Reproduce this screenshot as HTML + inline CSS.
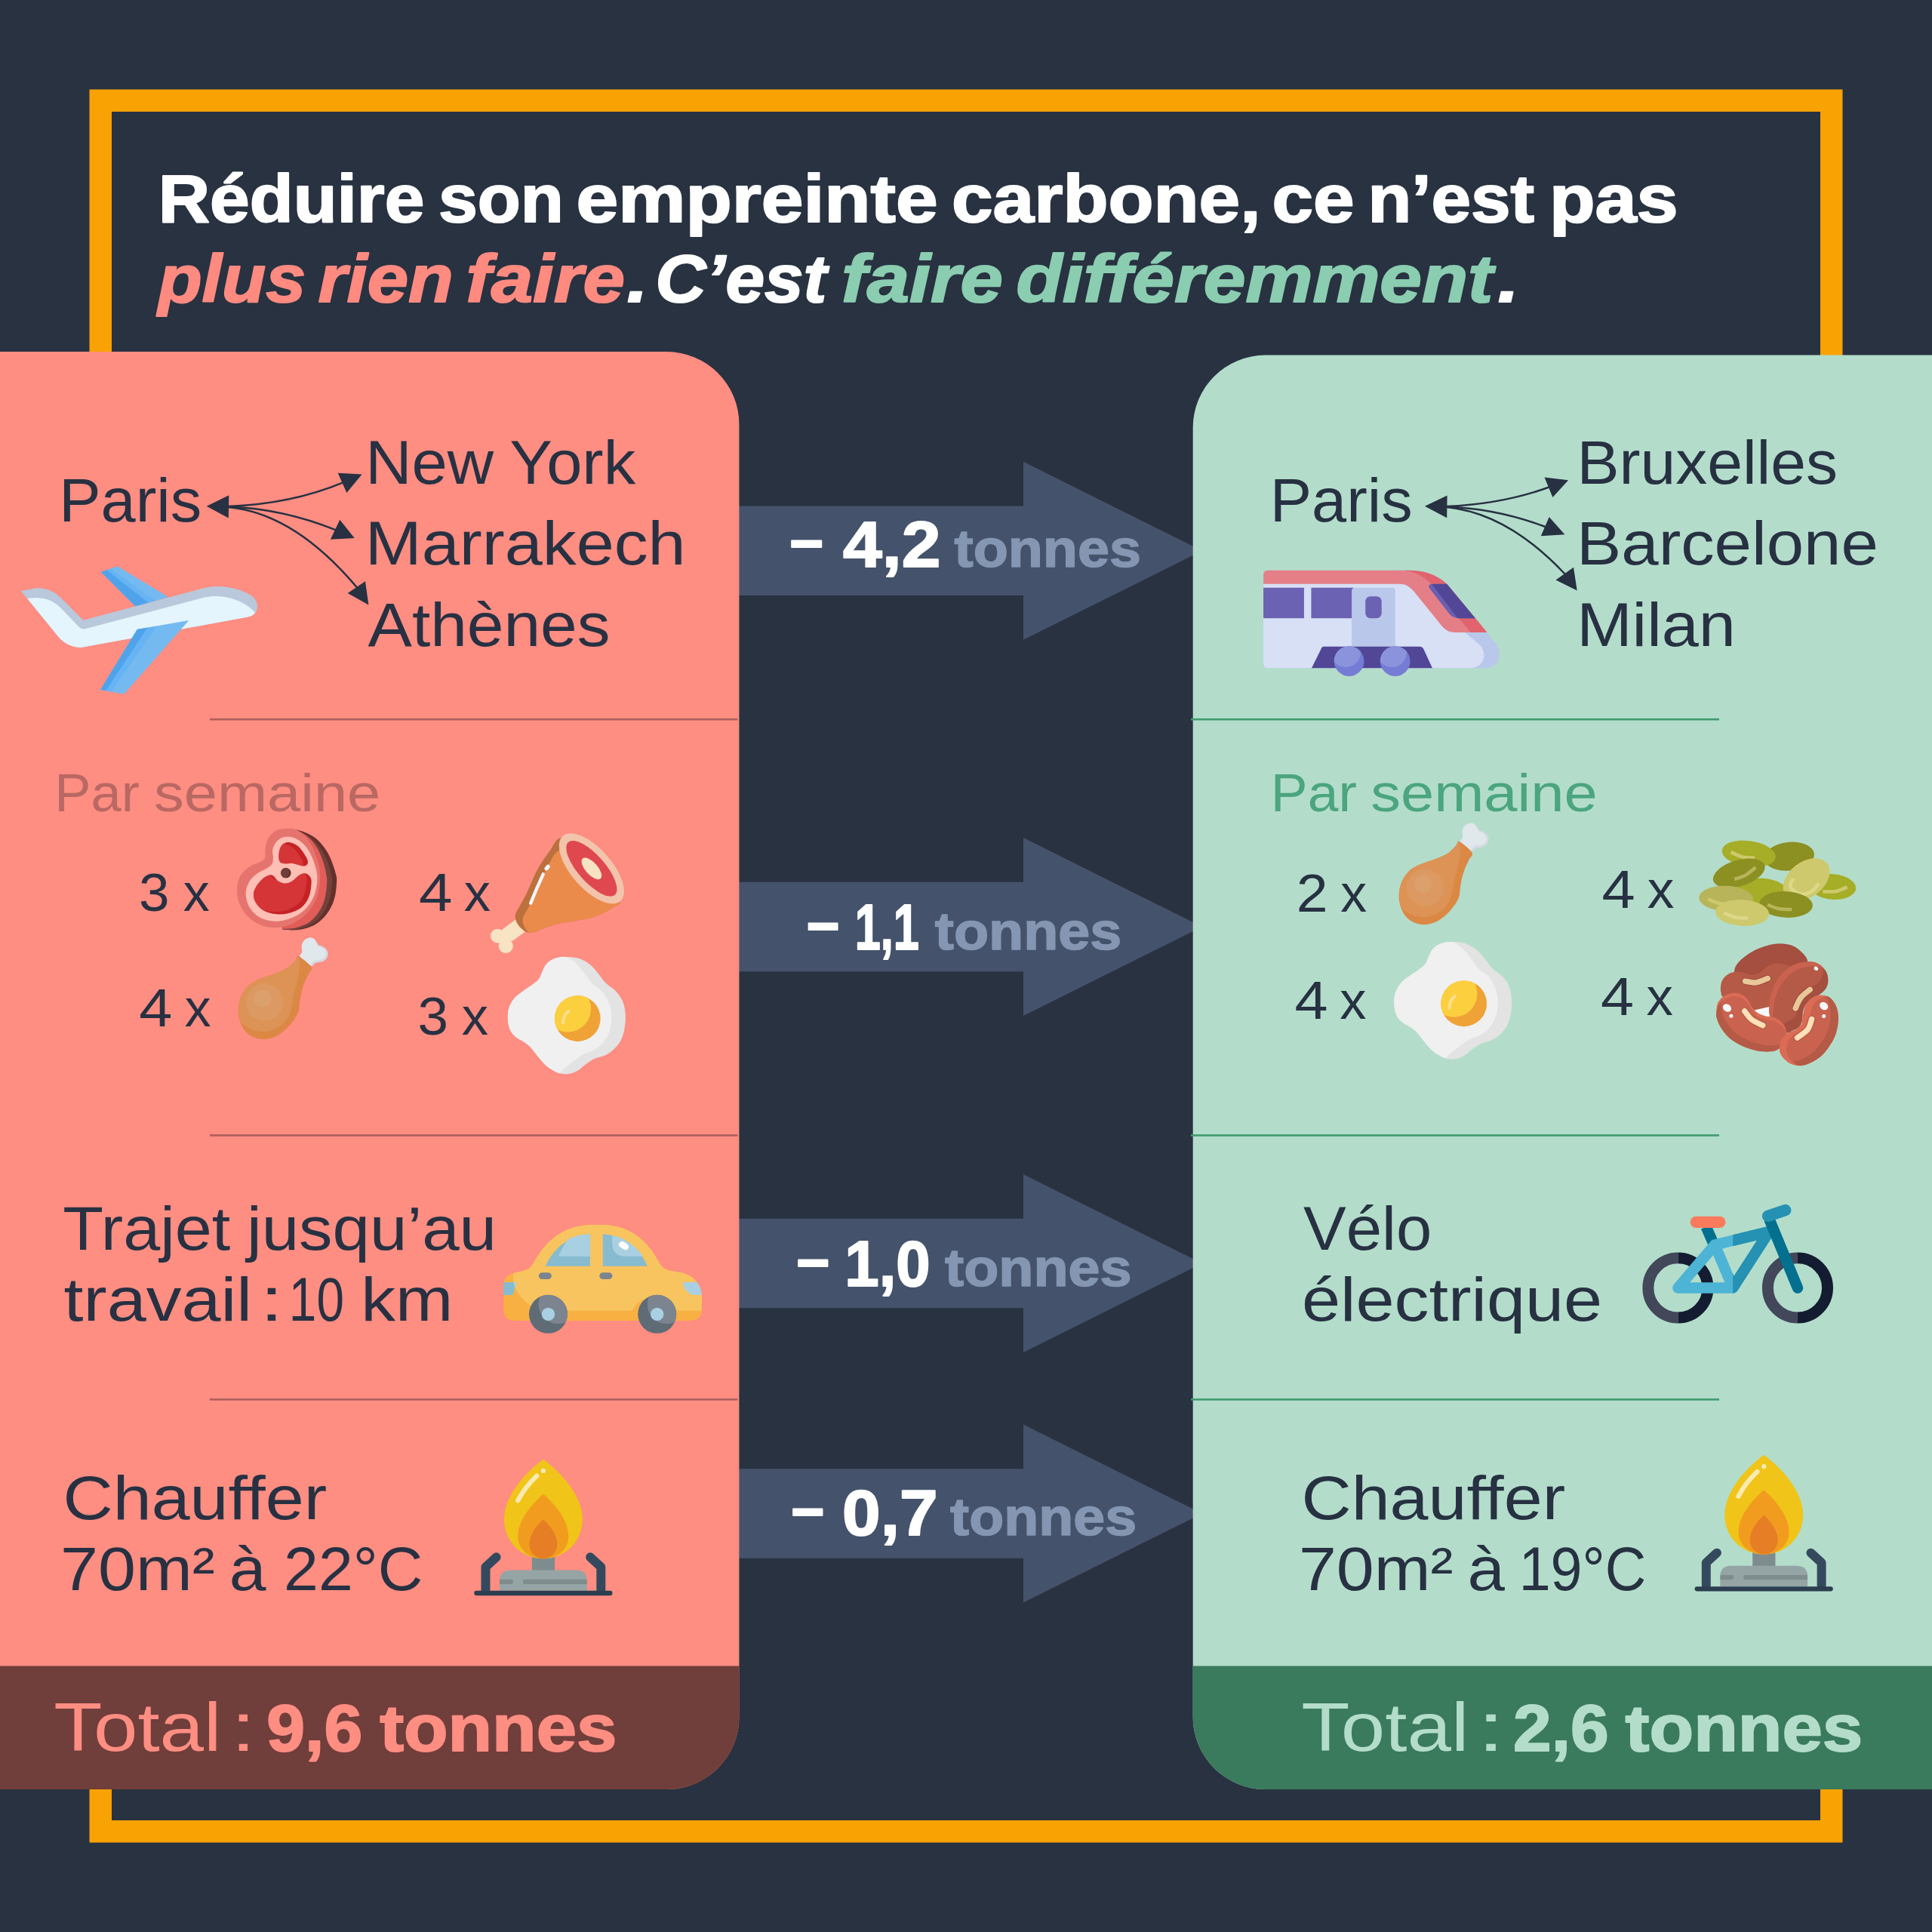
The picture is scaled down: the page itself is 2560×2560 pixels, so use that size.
<!DOCTYPE html>
<html lang="fr">
<head>
<meta charset="utf-8">
<title>Réduire son empreinte carbone</title>
<style>
html,body{margin:0;padding:0;background:#283241;}
body{width:2560px;height:2560px;}
svg{display:block;}
text{font-family:"Liberation Sans",sans-serif;white-space:pre;}
</style>
</head>
<body>
<svg width="2560" height="2560" viewBox="0 0 2560 2560">
<rect width="2560" height="2560" fill="#283241"/>
<rect x="133.25" y="133.25" width="2293.5" height="2293.5" fill="none" stroke="#f9a203" stroke-width="29.5"/>
<polygon points="970,670.6 1356,670.6 1356,611.8 1593,729.8 1356,847.8 1356,789.0 970,789.0" fill="#44536b"/>
<polygon points="970,1168.8 1356,1168.8 1356,1110.0 1593,1228.0 1356,1346.0 1356,1287.2 970,1287.2" fill="#44536b"/>
<polygon points="970,1614.8 1356,1614.8 1356,1556.0 1593,1674.0 1356,1792.0 1356,1733.2 970,1733.2" fill="#44536b"/>
<polygon points="970,1946.3 1356,1946.3 1356,1887.5 1593,2005.5 1356,2123.5 1356,2064.7 970,2064.7" fill="#44536b"/>
<path d="M0,466.1 H883.4 A96,96 0 0 1 979.4,562.1 V2275 A96,96 0 0 1 883.4,2371 H0 Z" fill="#fe8d82"/>
<path d="M0,2207.6 H979.4 V2275 A96,96 0 0 1 883.4,2371 H0 Z" fill="#703e3b"/>
<path d="M2560,470.6 H1676.7 A96,96 0 0 0 1580.7,566.6 V2275 A96,96 0 0 0 1676.7,2371 H2560 Z" fill="#b3ddca"/>
<path d="M2560,2207.6 H1580.7 V2275 A96,96 0 0 0 1676.7,2371 H2560 Z" fill="#3a7a5d"/>
<rect x="278" y="951.9" width="699.5" height="2.6" fill="#ad605c"/>
<rect x="1578" y="951.9" width="700" height="2.6" fill="#419b70"/>
<rect x="278" y="1503.1" width="699.5" height="2.6" fill="#ad605c"/>
<rect x="1578" y="1503.1" width="700" height="2.6" fill="#419b70"/>
<rect x="278" y="1853.1" width="699.5" height="2.6" fill="#ad605c"/>
<rect x="1578" y="1853.1" width="700" height="2.6" fill="#419b70"/>
<g transform="translate(300 1085) scale(0.082816)">
<defs><clipPath id="stk1"><path d="M1000,375 C1041.7,380 1105,402.5 1150,440 C1195,477.5 1244.2,558.3 1270,600 C1295.8,641.7 1303.3,666.7 1305,690 C1306.7,713.3 1292.5,729.2 1280,740 C1267.5,750.8 1260,758.3 1230,755 C1200,751.7 1133.3,727.2 1100,720 C1066.7,712.8 1058.3,712.8 1030,712 C1001.7,711.2 958.3,718.7 930,715 C901.7,711.3 875.3,705.8 860,690 C844.7,674.2 839.7,651.7 838,620 C836.3,588.3 839.7,535 850,500 C860.3,465 875,430.8 900,410 C925,389.2 958.3,370 1000,375 Z" fill="#000"/></clipPath><clipPath id="stk2"><path d="M690,900 C720,893.3 736.7,903.3 760,920 C783.3,936.7 800,980.8 830,1000 C860,1019.2 903.3,1035 940,1035 C976.7,1035 1011.7,1022.5 1050,1000 C1088.3,977.5 1133.3,920.8 1170,900 C1206.7,879.2 1241.7,870 1270,875 C1298.3,880 1325,904.2 1340,930 C1355,955.8 1363.3,976.7 1360,1030 C1356.7,1083.3 1346.7,1185 1320,1250 C1293.3,1315 1253.3,1376.7 1200,1420 C1146.7,1463.3 1066.7,1492.5 1000,1510 C933.3,1527.5 866.7,1531.7 800,1525 C733.3,1518.3 655,1500.8 600,1470 C545,1439.2 497.5,1385 470,1340 C442.5,1295 433.3,1243.3 435,1200 C436.7,1156.7 455.8,1120 480,1080 C504.2,1040 545,990 580,960 C615,930 660,906.7 690,900 Z" fill="#000"/></clipPath><clipPath id="stk3"><circle cx="952" cy="867" r="82"/></clipPath></defs>
<path d="M1000,165 C1016.7,165.8 1058.3,161.7 1100,170 C1141.7,178.3 1200,195 1250,215 C1300,235 1355,259.2 1400,290 C1445,320.8 1483.3,358.3 1520,400 C1556.7,441.7 1590,486.7 1620,540 C1650,593.3 1677.5,660 1700,720 C1722.5,780 1744.2,853.3 1755,900 C1765.8,946.7 1766.7,950 1765,1000 C1763.3,1050 1757.5,1136.7 1745,1200 C1732.5,1263.3 1714.2,1325 1690,1380 C1665.8,1435 1635,1485 1600,1530 C1565,1575 1521.7,1617.5 1480,1650 C1438.3,1682.5 1396.7,1705 1350,1725 C1303.3,1745 1250,1760.5 1200,1770 C1150,1779.5 1100,1782 1050,1782 C1000,1782 925,1772 900,1770 L800,1400 L800,500 Z" fill="#65302c"/>
<path d="M1000,160 C1025,165.8 1095,173.3 1150,195 C1205,216.7 1280,255.8 1330,290 C1380,324.2 1413.3,358.3 1450,400 C1486.7,441.7 1520,486.7 1550,540 C1580,593.3 1608.3,660 1630,720 C1651.7,780 1670,853.3 1680,900 C1690,946.7 1691.7,950 1690,1000 C1688.3,1050 1682.5,1136.7 1670,1200 C1657.5,1263.3 1638.3,1325 1615,1380 C1591.7,1435 1564.2,1485 1530,1530 C1495.8,1575 1451.7,1618.3 1410,1650 C1368.3,1681.7 1326.7,1700.8 1280,1720 C1233.3,1739.2 1176.7,1755.8 1130,1765 C1083.3,1774.2 1038.3,1775 1000,1775 C961.7,1775 916.7,1766.7 900,1765 L800,1400 L800,500 Z" fill="#73423b"/>
<path d="M950,157 C975,160 1046.7,157.8 1100,175 C1153.3,192.2 1220,224.2 1270,260 C1320,295.8 1363.3,343.3 1400,390 C1436.7,436.7 1463.3,485 1490,540 C1516.7,595 1541.7,660 1560,720 C1578.3,780 1591.7,853.3 1600,900 C1608.3,946.7 1611.7,950 1610,1000 C1608.3,1050 1601.7,1136.7 1590,1200 C1578.3,1263.3 1563.3,1325 1540,1380 C1516.7,1435 1485,1485 1450,1530 C1415,1575 1371.7,1619.2 1330,1650 C1288.3,1680.8 1246.7,1697.5 1200,1715 C1153.3,1732.5 1100,1747.5 1050,1755 C1000,1762.5 925,1759.2 900,1760 L800,1400 L800,500 Z" fill="#e25c58"/>
<path d="M900,160 C965,156.7 1075,150 1150,190 C1225,230 1296.7,315 1350,400 C1403.3,485 1445,608.3 1470,700 C1495,791.7 1503.3,858.3 1500,950 C1496.7,1041.7 1483.3,1158.3 1450,1250 C1416.7,1341.7 1366.7,1428.3 1300,1500 C1233.3,1571.7 1133.3,1640 1050,1680 C966.7,1720 883.3,1736.7 800,1740 C716.7,1743.3 628.3,1731.7 550,1700 C471.7,1668.3 388.3,1611.7 330,1550 C271.7,1488.3 226.7,1405 200,1330 C173.3,1255 165,1171.7 170,1100 C175,1028.3 195,956.7 230,900 C265,843.3 325,796.7 380,760 C435,723.3 520,703.3 560,680 C600,656.7 610,650 620,620 C630,590 613.3,548.3 620,500 C626.7,451.7 636.7,378.3 660,330 C683.3,281.7 720,238.3 760,210 C800,181.7 835,163.3 900,160 Z" fill="#e5746f"/>
<path d="M980,288 C1018.3,288 1060,293 1100,310 C1140,327 1181.7,353.3 1220,390 C1258.3,426.7 1298.3,475 1330,530 C1361.7,585 1389.2,653.3 1410,720 C1430.8,786.7 1453.3,853.3 1455,930 C1456.7,1006.7 1442.5,1105 1420,1180 C1397.5,1255 1361.7,1323.3 1320,1380 C1278.3,1436.7 1223.3,1483.3 1170,1520 C1116.7,1556.7 1061.7,1580 1000,1600 C938.3,1620 873.3,1641.7 800,1640 C726.7,1638.3 630,1625 560,1590 C490,1555 421.7,1495 380,1430 C338.3,1365 311.7,1271.7 310,1200 C308.3,1128.3 338.3,1055 370,1000 C401.7,945 453.3,905 500,870 C546.7,835 611.7,815 650,790 C688.3,765 713.7,748.3 730,720 C746.3,691.7 746.7,656.7 748,620 C749.3,583.3 731,540 738,500 C745,460 768,411.7 790,380 C812,348.3 838.3,325.3 870,310 C901.7,294.7 941.7,288 980,288 Z" fill="#ffbfb5"/>
<path d="M1000,375 C1041.7,380 1105,402.5 1150,440 C1195,477.5 1244.2,558.3 1270,600 C1295.8,641.7 1303.3,666.7 1305,690 C1306.7,713.3 1292.5,729.2 1280,740 C1267.5,750.8 1260,758.3 1230,755 C1200,751.7 1133.3,727.2 1100,720 C1066.7,712.8 1058.3,712.8 1030,712 C1001.7,711.2 958.3,718.7 930,715 C901.7,711.3 875.3,705.8 860,690 C844.7,674.2 839.7,651.7 838,620 C836.3,588.3 839.7,535 850,500 C860.3,465 875,430.8 900,410 C925,389.2 958.3,370 1000,375 Z" fill="#c62226"/>
<g clip-path="url(#stk1)"><g transform="translate(-75 30)"><path d="M1000,375 C1041.7,380 1105,402.5 1150,440 C1195,477.5 1244.2,558.3 1270,600 C1295.8,641.7 1303.3,666.7 1305,690 C1306.7,713.3 1292.5,729.2 1280,740 C1267.5,750.8 1260,758.3 1230,755 C1200,751.7 1133.3,727.2 1100,720 C1066.7,712.8 1058.3,712.8 1030,712 C1001.7,711.2 958.3,718.7 930,715 C901.7,711.3 875.3,705.8 860,690 C844.7,674.2 839.7,651.7 838,620 C836.3,588.3 839.7,535 850,500 C860.3,465 875,430.8 900,410 C925,389.2 958.3,370 1000,375 Z" fill="#d63538"/></g></g>
<path d="M690,900 C720,893.3 736.7,903.3 760,920 C783.3,936.7 800,980.8 830,1000 C860,1019.2 903.3,1035 940,1035 C976.7,1035 1011.7,1022.5 1050,1000 C1088.3,977.5 1133.3,920.8 1170,900 C1206.7,879.2 1241.7,870 1270,875 C1298.3,880 1325,904.2 1340,930 C1355,955.8 1363.3,976.7 1360,1030 C1356.7,1083.3 1346.7,1185 1320,1250 C1293.3,1315 1253.3,1376.7 1200,1420 C1146.7,1463.3 1066.7,1492.5 1000,1510 C933.3,1527.5 866.7,1531.7 800,1525 C733.3,1518.3 655,1500.8 600,1470 C545,1439.2 497.5,1385 470,1340 C442.5,1295 433.3,1243.3 435,1200 C436.7,1156.7 455.8,1120 480,1080 C504.2,1040 545,990 580,960 C615,930 660,906.7 690,900 Z" fill="#c62226"/>
<g clip-path="url(#stk2)"><g transform="translate(-75 -40)"><path d="M690,900 C720,893.3 736.7,903.3 760,920 C783.3,936.7 800,980.8 830,1000 C860,1019.2 903.3,1035 940,1035 C976.7,1035 1011.7,1022.5 1050,1000 C1088.3,977.5 1133.3,920.8 1170,900 C1206.7,879.2 1241.7,870 1270,875 C1298.3,880 1325,904.2 1340,930 C1355,955.8 1363.3,976.7 1360,1030 C1356.7,1083.3 1346.7,1185 1320,1250 C1293.3,1315 1253.3,1376.7 1200,1420 C1146.7,1463.3 1066.7,1492.5 1000,1510 C933.3,1527.5 866.7,1531.7 800,1525 C733.3,1518.3 655,1500.8 600,1470 C545,1439.2 497.5,1385 470,1340 C442.5,1295 433.3,1243.3 435,1200 C436.7,1156.7 455.8,1120 480,1080 C504.2,1040 545,990 580,960 C615,930 660,906.7 690,900 Z" fill="#d63538"/></g></g>
<circle cx="952" cy="867" r="82" fill="#5f2d29"/>
<circle cx="925" cy="860" r="82" fill="#6e3f38" clip-path="url(#stk3)"/>
</g>
<g transform="translate(300 1235) scale(0.077640)">
<path d="M1260,425 C1235,385.8 1285.8,372.5 1290,340 C1294.2,307.5 1278.3,263.3 1285,230 C1291.7,196.7 1307.5,162.5 1330,140 C1352.5,117.5 1391.7,98.3 1420,95 C1448.3,91.7 1479.2,105.8 1500,120 C1520.8,134.2 1531.7,162.5 1545,180 C1558.3,197.5 1564.2,214.2 1580,225 C1595.8,235.8 1620,234.2 1640,245 C1660,255.8 1684.2,269.2 1700,290 C1715.8,310.8 1733.3,343.3 1735,370 C1736.7,396.7 1724.2,428.3 1710,450 C1695.8,471.7 1671.7,489.2 1650,500 C1628.3,510.8 1603.3,510 1580,515 C1556.7,520 1533.3,520 1510,530 C1486.7,540 1481.7,592.5 1440,575 C1398.3,557.5 1285,464.2 1260,425 Z" fill="#d3dae2"/>
<path d="M1262,423 C1240.7,387.2 1287.8,372.2 1292,340 C1296.2,307.8 1280.7,263 1287,230 C1293.3,197 1307.8,164.2 1330,142 C1352.2,119.8 1392.5,100.3 1420,97 C1447.5,93.7 1475.8,107.3 1495,122 C1514.2,136.7 1523.3,166.2 1535,185 C1546.7,203.8 1550.8,222.5 1565,235 C1579.2,247.5 1601.7,249.2 1620,260 C1638.3,270.8 1661.7,281.7 1675,300 C1688.3,318.3 1700,348.3 1700,370 C1700,391.7 1688.3,414.2 1675,430 C1661.7,445.8 1640.8,456.7 1620,465 C1599.2,473.3 1573.3,474.2 1550,480 C1526.7,485.8 1501.7,487.5 1480,500 C1458.3,512.5 1456.3,567.8 1420,555 C1383.7,542.2 1283.3,458.8 1262,423 Z" fill="#e0e8ec"/>
<path d="M1235,415 C1280,435 1422.5,549.2 1450,600 C1477.5,650.8 1420,675 1400,720 C1380,765 1350,818.3 1330,870 C1310,921.7 1293.3,975 1280,1030 C1266.7,1085 1258.3,1146.7 1250,1200 C1241.7,1253.3 1246.7,1300 1230,1350 C1213.3,1400 1188.3,1446.7 1150,1500 C1111.7,1553.3 1055,1621.7 1000,1670 C945,1718.3 883.3,1763.3 820,1790 C756.7,1816.7 685,1831.7 620,1830 C555,1828.3 485,1810 430,1780 C375,1750 325.8,1703.3 290,1650 C254.2,1596.7 229.2,1518.3 215,1460 C200.8,1401.7 200.8,1355 205,1300 C209.2,1245 220.8,1183.3 240,1130 C259.2,1076.7 285,1025 320,980 C355,935 400,893.3 450,860 C500,826.7 561.7,803.3 620,780 C678.3,756.7 745,740 800,720 C855,700 903.3,683.3 950,660 C996.7,636.7 1041.7,610 1080,580 C1118.3,550 1154.2,507.5 1180,480 C1205.8,452.5 1190,395 1235,415 Z" fill="#db8845"/>
<path d="M1225,430 C1236.7,436.7 1247.5,478.3 1250,520 C1252.5,561.7 1248.3,621.7 1240,680 C1231.7,738.3 1215,808.3 1200,870 C1185,931.7 1164.2,986.7 1150,1050 C1135.8,1113.3 1126.7,1191.7 1115,1250 C1103.3,1308.3 1102.5,1350 1080,1400 C1057.5,1450 1021.7,1507.5 980,1550 C938.3,1592.5 885,1630 830,1655 C775,1680 713.3,1697.5 650,1700 C586.7,1702.5 508.3,1688.3 450,1670 C391.7,1651.7 336.7,1620 300,1590 C263.3,1560 245.8,1538.3 230,1490 C214.2,1441.7 203.3,1360 205,1300 C206.7,1240 220.8,1183.3 240,1130 C259.2,1076.7 285,1025 320,980 C355,935 400,893.3 450,860 C500,826.7 561.7,803.3 620,780 C678.3,756.7 745,740 800,720 C855,700 903.3,683.3 950,660 C996.7,636.7 1041.7,610 1080,580 C1118.3,550 1155.8,505 1180,480 C1204.2,455 1213.3,423.3 1225,430 Z" fill="#dc9355"/>
<circle cx="650" cy="1200" r="318" fill="#dc9a62"/>
<circle cx="615" cy="1135" r="148" fill="#dca06c"/>
</g>
<g transform="translate(1837.9 1083.1) scale(0.077640)">
<path d="M1260,425 C1235,385.8 1285.8,372.5 1290,340 C1294.2,307.5 1278.3,263.3 1285,230 C1291.7,196.7 1307.5,162.5 1330,140 C1352.5,117.5 1391.7,98.3 1420,95 C1448.3,91.7 1479.2,105.8 1500,120 C1520.8,134.2 1531.7,162.5 1545,180 C1558.3,197.5 1564.2,214.2 1580,225 C1595.8,235.8 1620,234.2 1640,245 C1660,255.8 1684.2,269.2 1700,290 C1715.8,310.8 1733.3,343.3 1735,370 C1736.7,396.7 1724.2,428.3 1710,450 C1695.8,471.7 1671.7,489.2 1650,500 C1628.3,510.8 1603.3,510 1580,515 C1556.7,520 1533.3,520 1510,530 C1486.7,540 1481.7,592.5 1440,575 C1398.3,557.5 1285,464.2 1260,425 Z" fill="#d3dae2"/>
<path d="M1262,423 C1240.7,387.2 1287.8,372.2 1292,340 C1296.2,307.8 1280.7,263 1287,230 C1293.3,197 1307.8,164.2 1330,142 C1352.2,119.8 1392.5,100.3 1420,97 C1447.5,93.7 1475.8,107.3 1495,122 C1514.2,136.7 1523.3,166.2 1535,185 C1546.7,203.8 1550.8,222.5 1565,235 C1579.2,247.5 1601.7,249.2 1620,260 C1638.3,270.8 1661.7,281.7 1675,300 C1688.3,318.3 1700,348.3 1700,370 C1700,391.7 1688.3,414.2 1675,430 C1661.7,445.8 1640.8,456.7 1620,465 C1599.2,473.3 1573.3,474.2 1550,480 C1526.7,485.8 1501.7,487.5 1480,500 C1458.3,512.5 1456.3,567.8 1420,555 C1383.7,542.2 1283.3,458.8 1262,423 Z" fill="#e0e8ec"/>
<path d="M1235,415 C1280,435 1422.5,549.2 1450,600 C1477.5,650.8 1420,675 1400,720 C1380,765 1350,818.3 1330,870 C1310,921.7 1293.3,975 1280,1030 C1266.7,1085 1258.3,1146.7 1250,1200 C1241.7,1253.3 1246.7,1300 1230,1350 C1213.3,1400 1188.3,1446.7 1150,1500 C1111.7,1553.3 1055,1621.7 1000,1670 C945,1718.3 883.3,1763.3 820,1790 C756.7,1816.7 685,1831.7 620,1830 C555,1828.3 485,1810 430,1780 C375,1750 325.8,1703.3 290,1650 C254.2,1596.7 229.2,1518.3 215,1460 C200.8,1401.7 200.8,1355 205,1300 C209.2,1245 220.8,1183.3 240,1130 C259.2,1076.7 285,1025 320,980 C355,935 400,893.3 450,860 C500,826.7 561.7,803.3 620,780 C678.3,756.7 745,740 800,720 C855,700 903.3,683.3 950,660 C996.7,636.7 1041.7,610 1080,580 C1118.3,550 1154.2,507.5 1180,480 C1205.8,452.5 1190,395 1235,415 Z" fill="#db8845"/>
<path d="M1225,430 C1236.7,436.7 1247.5,478.3 1250,520 C1252.5,561.7 1248.3,621.7 1240,680 C1231.7,738.3 1215,808.3 1200,870 C1185,931.7 1164.2,986.7 1150,1050 C1135.8,1113.3 1126.7,1191.7 1115,1250 C1103.3,1308.3 1102.5,1350 1080,1400 C1057.5,1450 1021.7,1507.5 980,1550 C938.3,1592.5 885,1630 830,1655 C775,1680 713.3,1697.5 650,1700 C586.7,1702.5 508.3,1688.3 450,1670 C391.7,1651.7 336.7,1620 300,1590 C263.3,1560 245.8,1538.3 230,1490 C214.2,1441.7 203.3,1360 205,1300 C206.7,1240 220.8,1183.3 240,1130 C259.2,1076.7 285,1025 320,980 C355,935 400,893.3 450,860 C500,826.7 561.7,803.3 620,780 C678.3,756.7 745,740 800,720 C855,700 903.3,683.3 950,660 C996.7,636.7 1041.7,610 1080,580 C1118.3,550 1155.8,505 1180,480 C1204.2,455 1213.3,423.3 1225,430 Z" fill="#dc9355"/>
<circle cx="650" cy="1200" r="318" fill="#dc9a62"/>
<circle cx="615" cy="1135" r="148" fill="#dca06c"/>
</g>
<g transform="translate(640 1090) scale(0.103520)">
<circle cx="187" cy="1450" r="91" fill="#f8e3c3"/><circle cx="292" cy="1580" r="93" fill="#f8e3c3"/><polygon points="245,1370 420,1240 535,1400 380,1515 240,1520" fill="#f8e3c3"/>
<path d="M1010,190 C918.3,201.7 898.3,308.3 850,370 C801.7,431.7 755,501.7 720,560 C685,618.3 666.7,663.3 640,720 C613.3,776.7 588.3,841.7 560,900 C531.7,958.3 493.3,1026.7 470,1070 C446.7,1113.3 429.2,1133.3 420,1160 C410.8,1186.7 410,1205 415,1230 C420,1255 432.5,1285 450,1310 C467.5,1335 495,1363.3 520,1380 C545,1396.7 570,1409.2 600,1410 C630,1410.8 658.3,1399.2 700,1385 C741.7,1370.8 800,1341.7 850,1325 C900,1308.3 941.7,1297.2 1000,1285 C1058.3,1272.8 1133.3,1264.2 1200,1252 C1266.7,1239.8 1341.7,1228.7 1400,1212 C1458.3,1195.3 1503.3,1175.3 1550,1152 C1596.7,1128.7 1645,1097.3 1680,1072 C1715,1046.7 1756.7,1062 1760,1000 C1763.3,938 1760,816.7 1700,700 C1640,583.3 1515,385 1400,300 C1285,215 1101.7,178.3 1010,190 Z" fill="#bb703d"/>
<path d="M990,350 C898.3,386.7 888.3,461.7 850,520 C811.7,578.3 788.3,640 760,700 C731.7,760 706.7,821.7 680,880 C653.3,938.3 626.7,996.7 600,1050 C573.3,1103.3 535,1163.3 520,1200 C505,1236.7 506.7,1245 510,1270 C513.3,1295 525,1326.7 540,1350 C555,1373.3 573.3,1404.2 600,1410 C626.7,1415.8 658.3,1399.2 700,1385 C741.7,1370.8 800,1341.7 850,1325 C900,1308.3 941.7,1297.2 1000,1285 C1058.3,1272.8 1133.3,1264.2 1200,1252 C1266.7,1239.8 1341.7,1228.7 1400,1212 C1458.3,1195.3 1503.3,1175.3 1550,1152 C1596.7,1128.7 1645,1097.3 1680,1072 C1715,1046.7 1756.7,1062 1760,1000 C1763.3,938 1760,816.7 1700,700 C1640,583.3 1518.3,358.3 1400,300 C1281.7,241.7 1081.7,313.3 990,350 Z" fill="#eb8b4b"/>
<g transform="translate(1390 588) rotate(48.5)"><ellipse rx="556" ry="258" fill="#f2c4ab"/><ellipse rx="450" ry="172" fill="#df484e"/><ellipse rx="172" ry="78" fill="#f8e3c3"/></g>
<path d="M770,660 Q690,830 610,1032" fill="none" stroke="#f4f6fa" stroke-width="42" stroke-linecap="round"/>
<path d="M832,563 L812,588" fill="none" stroke="#f4f6fa" stroke-width="50" stroke-linecap="round"/>
</g>
<g transform="translate(665 1260) scale(0.087989)">
<defs><clipPath id="eggl"><circle cx="1140" cy="1018" r="345"/></clipPath></defs>
<path d="M950,90 C1011.7,88.3 1088.3,91.7 1150,110 C1211.7,128.3 1270,161.7 1320,200 C1370,238.3 1408.3,291.7 1450,340 C1491.7,388.3 1525,445 1570,490 C1615,535 1678.3,565 1720,610 C1761.7,655 1796.7,703.3 1820,760 C1843.3,816.7 1855,885 1860,950 C1865,1015 1860,1086.7 1850,1150 C1840,1213.3 1825,1276.7 1800,1330 C1775,1383.3 1740,1430 1700,1470 C1660,1510 1610,1545 1560,1570 C1510,1595 1450,1596.7 1400,1620 C1350,1643.3 1305,1678.3 1260,1710 C1215,1741.7 1176.7,1785.8 1130,1810 C1083.3,1834.2 1030,1851.7 980,1855 C930,1858.3 880,1849.2 830,1830 C780,1810.8 726.7,1778.3 680,1740 C633.3,1701.7 591.7,1648.3 550,1600 C508.3,1551.7 466.7,1488.3 430,1450 C393.3,1411.7 368.3,1396.7 330,1370 C291.7,1343.3 235,1321.7 200,1290 C165,1258.3 138.3,1225 120,1180 C101.7,1135 91.7,1075 90,1020 C88.3,965 91.7,903.3 110,850 C128.3,796.7 161.7,743.3 200,700 C238.3,656.7 295,623.3 340,590 C385,556.7 433.3,528.3 470,500 C506.7,471.7 536.7,451.7 560,420 C583.3,388.3 591.7,346.7 610,310 C628.3,273.3 641.7,231.7 670,200 C698.3,168.3 733.3,138.3 780,120 C826.7,101.7 888.3,91.7 950,90 Z" fill="#e3e3e3"/>
<path d="M950,90 C1003.3,98.3 1053.3,131.7 1100,170 C1146.7,208.3 1186.7,266.7 1230,320 C1273.3,373.3 1311.7,440 1360,490 C1408.3,540 1478.3,571.7 1520,620 C1561.7,668.3 1588.3,725 1610,780 C1631.7,835 1645,891.7 1650,950 C1655,1008.3 1650,1075 1640,1130 C1630,1185 1613.3,1233.3 1590,1280 C1566.7,1326.7 1536.7,1373.3 1500,1410 C1463.3,1446.7 1416.7,1475 1370,1500 C1323.3,1525 1268.3,1533.3 1220,1560 C1171.7,1586.7 1125,1626.7 1080,1660 C1035,1693.3 985,1730.8 950,1760 C915,1789.2 890,1823.3 870,1835 C850,1846.7 861.7,1845.8 830,1830 C798.3,1814.2 726.7,1778.3 680,1740 C633.3,1701.7 591.7,1648.3 550,1600 C508.3,1551.7 466.7,1488.3 430,1450 C393.3,1411.7 368.3,1396.7 330,1370 C291.7,1343.3 235,1321.7 200,1290 C165,1258.3 138.3,1225 120,1180 C101.7,1135 91.7,1075 90,1020 C88.3,965 91.7,903.3 110,850 C128.3,796.7 161.7,743.3 200,700 C238.3,656.7 295,623.3 340,590 C385,556.7 433.3,528.3 470,500 C506.7,471.7 536.7,451.7 560,420 C583.3,388.3 591.7,346.7 610,310 C628.3,273.3 641.7,231.7 670,200 C698.3,168.3 733.3,138.3 780,120 C826.7,101.7 896.7,81.7 950,90 Z" fill="#f0f0f0"/>
<circle cx="1140" cy="1018" r="345" fill="#efa236"/>
<circle cx="990" cy="870" r="352" fill="#fccf3f" clip-path="url(#eggl)"/>
<path d="M1005,908 Q925,960 920,1085" fill="none" stroke="#fedf8c" stroke-width="46" stroke-linecap="round"/>
</g>
<g transform="translate(1839.4 1240.2) scale(0.087989)">
<defs><clipPath id="eggr"><circle cx="1140" cy="1018" r="345"/></clipPath></defs>
<path d="M950,90 C1011.7,88.3 1088.3,91.7 1150,110 C1211.7,128.3 1270,161.7 1320,200 C1370,238.3 1408.3,291.7 1450,340 C1491.7,388.3 1525,445 1570,490 C1615,535 1678.3,565 1720,610 C1761.7,655 1796.7,703.3 1820,760 C1843.3,816.7 1855,885 1860,950 C1865,1015 1860,1086.7 1850,1150 C1840,1213.3 1825,1276.7 1800,1330 C1775,1383.3 1740,1430 1700,1470 C1660,1510 1610,1545 1560,1570 C1510,1595 1450,1596.7 1400,1620 C1350,1643.3 1305,1678.3 1260,1710 C1215,1741.7 1176.7,1785.8 1130,1810 C1083.3,1834.2 1030,1851.7 980,1855 C930,1858.3 880,1849.2 830,1830 C780,1810.8 726.7,1778.3 680,1740 C633.3,1701.7 591.7,1648.3 550,1600 C508.3,1551.7 466.7,1488.3 430,1450 C393.3,1411.7 368.3,1396.7 330,1370 C291.7,1343.3 235,1321.7 200,1290 C165,1258.3 138.3,1225 120,1180 C101.7,1135 91.7,1075 90,1020 C88.3,965 91.7,903.3 110,850 C128.3,796.7 161.7,743.3 200,700 C238.3,656.7 295,623.3 340,590 C385,556.7 433.3,528.3 470,500 C506.7,471.7 536.7,451.7 560,420 C583.3,388.3 591.7,346.7 610,310 C628.3,273.3 641.7,231.7 670,200 C698.3,168.3 733.3,138.3 780,120 C826.7,101.7 888.3,91.7 950,90 Z" fill="#e3e3e3"/>
<path d="M950,90 C1003.3,98.3 1053.3,131.7 1100,170 C1146.7,208.3 1186.7,266.7 1230,320 C1273.3,373.3 1311.7,440 1360,490 C1408.3,540 1478.3,571.7 1520,620 C1561.7,668.3 1588.3,725 1610,780 C1631.7,835 1645,891.7 1650,950 C1655,1008.3 1650,1075 1640,1130 C1630,1185 1613.3,1233.3 1590,1280 C1566.7,1326.7 1536.7,1373.3 1500,1410 C1463.3,1446.7 1416.7,1475 1370,1500 C1323.3,1525 1268.3,1533.3 1220,1560 C1171.7,1586.7 1125,1626.7 1080,1660 C1035,1693.3 985,1730.8 950,1760 C915,1789.2 890,1823.3 870,1835 C850,1846.7 861.7,1845.8 830,1830 C798.3,1814.2 726.7,1778.3 680,1740 C633.3,1701.7 591.7,1648.3 550,1600 C508.3,1551.7 466.7,1488.3 430,1450 C393.3,1411.7 368.3,1396.7 330,1370 C291.7,1343.3 235,1321.7 200,1290 C165,1258.3 138.3,1225 120,1180 C101.7,1135 91.7,1075 90,1020 C88.3,965 91.7,903.3 110,850 C128.3,796.7 161.7,743.3 200,700 C238.3,656.7 295,623.3 340,590 C385,556.7 433.3,528.3 470,500 C506.7,471.7 536.7,451.7 560,420 C583.3,388.3 591.7,346.7 610,310 C628.3,273.3 641.7,231.7 670,200 C698.3,168.3 733.3,138.3 780,120 C826.7,101.7 896.7,81.7 950,90 Z" fill="#f0f0f0"/>
<circle cx="1140" cy="1018" r="345" fill="#efa236"/>
<circle cx="990" cy="870" r="352" fill="#fccf3f" clip-path="url(#eggr)"/>
<path d="M1005,908 Q925,960 920,1085" fill="none" stroke="#fedf8c" stroke-width="46" stroke-linecap="round"/>
</g>
<g transform="translate(2245 1100) scale(0.113872)">
<ellipse cx="1105" cy="305" rx="292" ry="166" transform="rotate(-6 1105 305)" fill="#8c9022"/>
<ellipse cx="635" cy="275" rx="315" ry="150" transform="rotate(8 635 275)" fill="#a6ad26"/>
<path d="M425,255 C447.5,264.5 513.8,300.8 560,312 C606.2,323.2 678.3,320.3 702,322" fill="none" stroke="#cdc96c" stroke-width="40"/>
<ellipse cx="1610" cy="658" rx="272" ry="148" transform="rotate(5 1610 658)" fill="#a6ad26"/>
<path d="M1495,715 C1520.8,714.5 1602.8,720.8 1650,712 C1697.2,703.2 1756.7,670.3 1778,662" fill="none" stroke="#cdc96c" stroke-width="40"/>
<ellipse cx="790" cy="710" rx="300" ry="150" transform="rotate(4 790 710)" fill="#a6ad26"/>
<ellipse cx="1305" cy="575" rx="305" ry="205" transform="rotate(-38 1305 575)" fill="#cdc96c"/>
<path d="M1152,562 C1146.3,578.3 1105.8,630 1118,660 C1130.2,690 1186.3,731.7 1225,742 C1263.7,752.3 1312.2,742 1350,722 C1387.8,702 1435,638.7 1452,622" fill="none" stroke="#ddd888" stroke-width="42"/>
<ellipse cx="520" cy="500" rx="312" ry="152" transform="rotate(-17 520 500)" fill="#8c9022"/>
<path d="M468,572 C490,563.7 558.8,545.3 600,522 C641.2,498.7 695.8,447 715,432" fill="none" stroke="#b8b45a" stroke-width="40"/>
<ellipse cx="370" cy="795" rx="316" ry="148" transform="rotate(2 370 795)" fill="#b8b45a"/>
<path d="M160,802 C181.7,810.3 245,842.7 290,852 C335,861.3 406.7,857 430,858" fill="none" stroke="#cdc96c" stroke-width="40"/>
<ellipse cx="1068" cy="865" rx="310" ry="152" transform="rotate(3 1068 865)" fill="#8c9022"/>
<path d="M852,868 C874.2,875.8 937.8,906 985,915 C1032.2,924 1110,920.8 1135,922" fill="none" stroke="#b8b45a" stroke-width="40"/>
<ellipse cx="558" cy="962" rx="313" ry="152" transform="rotate(3 558 962)" fill="#cdc96c"/>
<path d="M345,962 C367.5,970.8 432.8,1005 480,1015 C527.2,1025 603.3,1020.8 628,1022" fill="none" stroke="#ddd888" stroke-width="42"/>
</g>
<g transform="translate(2265 1240) scale(0.093171)">
<path d="M355,500 C358.3,453.3 379.2,415 420,370 C460.8,325 533.3,268.3 600,230 C666.7,191.7 753.3,160 820,140 C886.7,120 940,110 1000,110 C1060,110 1126.7,118.3 1180,140 C1233.3,161.7 1283.3,201.7 1320,240 C1356.7,278.3 1390,310 1400,370 C1410,430 1463.3,545 1380,600 C1296.7,655 1063.3,691.7 900,700 C736.7,708.3 490.8,683.3 400,650 C309.2,616.7 351.7,546.7 355,500 Z" fill="#a44f3f"/>
<path d="M160,740 C162.5,713.3 163.3,671.7 180,640 C196.7,608.3 226.7,571.7 260,550 C293.3,528.3 340,514.2 380,510 C420,505.8 460,518.3 500,525 C540,531.7 583.3,550.8 620,550 C656.7,549.2 685,540 720,520 C755,500 791.7,451.7 830,430 C868.3,408.3 910,393.3 950,390 C990,386.7 1038.3,400 1070,410 C1101.7,420 1151.7,401.7 1140,450 C1128.3,498.3 1045,608.3 1000,700 C955,791.7 903.3,943.3 870,1000 C836.7,1056.7 838.3,1030 800,1040 C761.7,1050 706.7,1083.3 640,1060 C573.3,1036.7 473.3,931.7 400,900 C326.7,868.3 239.2,886.7 200,870 C160.8,853.3 171.7,821.7 165,800 C158.3,778.3 157.5,766.7 160,740 Z" fill="#b55a46"/>
<path d="M510,645 C535,648.3 606.7,671.7 660,665 C713.3,658.3 801.7,615 830,605" fill="none" stroke="#a44f3f" stroke-width="106" stroke-linecap="round"/><path d="M510,645 C535,648.3 606.7,671.7 660,665 C713.3,658.3 801.7,615 830,605" fill="none" stroke="#e8c898" stroke-width="78" stroke-linecap="round"/>
<polygon points="640,1058 852,1010 852,1152 760,1142 690,1102" fill="#f7f8fc"/>
<defs><clipPath id="rb3a"><path d="M860,1150 C843.3,1100 846.7,1055 850,1000 C853.3,945 863.3,878.3 880,820 C896.7,761.7 920,701.7 950,650 C980,598.3 1018.3,550 1060,510 C1101.7,470 1151.7,433.3 1200,410 C1248.3,386.7 1301.7,376.7 1350,370 C1398.3,363.3 1448.3,360 1490,370 C1531.7,380 1570,403.3 1600,430 C1630,456.7 1655,493.3 1670,530 C1685,566.7 1693.3,611.7 1690,650 C1686.7,688.3 1671.7,728.3 1650,760 C1628.3,791.7 1593.3,816.7 1560,840 C1526.7,863.3 1481.7,876.7 1450,900 C1418.3,923.3 1390,950 1370,980 C1350,1010 1338.3,1043.3 1330,1080 C1321.7,1116.7 1328.3,1165 1320,1200 C1311.7,1235 1303.3,1265 1280,1290 C1256.7,1315 1211.7,1335 1180,1350 C1148.3,1365 1128.3,1388.3 1090,1380 C1051.7,1371.7 988.3,1338.3 950,1300 C911.7,1261.7 876.7,1200 860,1150 Z"/></clipPath><clipPath id="rb3b"><path d="M860,1150 C843.3,1100 846.7,1055 850,1000 C853.3,945 863.3,878.3 880,820 C896.7,761.7 920,701.7 950,650 C980,598.3 1018.3,550 1060,510 C1101.7,470 1151.7,433.3 1200,410 C1248.3,386.7 1301.7,376.7 1350,370 C1398.3,363.3 1448.3,360 1490,370 C1531.7,380 1570,403.3 1600,430 C1630,456.7 1655,493.3 1670,530 C1685,566.7 1693.3,611.7 1690,650 C1686.7,688.3 1671.7,728.3 1650,760 C1628.3,791.7 1593.3,816.7 1560,840 C1526.7,863.3 1481.7,876.7 1450,900 C1418.3,923.3 1390,950 1370,980 C1350,1010 1338.3,1043.3 1330,1080 C1321.7,1116.7 1328.3,1165 1320,1200 C1311.7,1235 1303.3,1265 1280,1290 C1256.7,1315 1211.7,1335 1180,1350 C1148.3,1365 1128.3,1388.3 1090,1380 C1051.7,1371.7 988.3,1338.3 950,1300 C911.7,1261.7 876.7,1200 860,1150 Z" transform="translate(-70 -130)"/></clipPath></defs><g clip-path="url(#rb3a)"><path d="M860,1150 C843.3,1100 846.7,1055 850,1000 C853.3,945 863.3,878.3 880,820 C896.7,761.7 920,701.7 950,650 C980,598.3 1018.3,550 1060,510 C1101.7,470 1151.7,433.3 1200,410 C1248.3,386.7 1301.7,376.7 1350,370 C1398.3,363.3 1448.3,360 1490,370 C1531.7,380 1570,403.3 1600,430 C1630,456.7 1655,493.3 1670,530 C1685,566.7 1693.3,611.7 1690,650 C1686.7,688.3 1671.7,728.3 1650,760 C1628.3,791.7 1593.3,816.7 1560,840 C1526.7,863.3 1481.7,876.7 1450,900 C1418.3,923.3 1390,950 1370,980 C1350,1010 1338.3,1043.3 1330,1080 C1321.7,1116.7 1328.3,1165 1320,1200 C1311.7,1235 1303.3,1265 1280,1290 C1256.7,1315 1211.7,1335 1180,1350 C1148.3,1365 1128.3,1388.3 1090,1380 C1051.7,1371.7 988.3,1338.3 950,1300 C911.7,1261.7 876.7,1200 860,1150 Z" fill="#c9634f"/><path d="M860,1150 C843.3,1100 846.7,1055 850,1000 C853.3,945 863.3,878.3 880,820 C896.7,761.7 920,701.7 950,650 C980,598.3 1018.3,550 1060,510 C1101.7,470 1151.7,433.3 1200,410 C1248.3,386.7 1301.7,376.7 1350,370 C1398.3,363.3 1448.3,360 1490,370 C1531.7,380 1570,403.3 1600,430 C1630,456.7 1655,493.3 1670,530 C1685,566.7 1693.3,611.7 1690,650 C1686.7,688.3 1671.7,728.3 1650,760 C1628.3,791.7 1593.3,816.7 1560,840 C1526.7,863.3 1481.7,876.7 1450,900 C1418.3,923.3 1390,950 1370,980 C1350,1010 1338.3,1043.3 1330,1080 C1321.7,1116.7 1328.3,1165 1320,1200 C1311.7,1235 1303.3,1265 1280,1290 C1256.7,1315 1211.7,1335 1180,1350 C1148.3,1365 1128.3,1388.3 1090,1380 C1051.7,1371.7 988.3,1338.3 950,1300 C911.7,1261.7 876.7,1200 860,1150 Z" fill="#a44f3f" transform="translate(60 70)"/><g clip-path="url(#rb3b)"><path d="M860,1150 C843.3,1100 846.7,1055 850,1000 C853.3,945 863.3,878.3 880,820 C896.7,761.7 920,701.7 950,650 C980,598.3 1018.3,550 1060,510 C1101.7,470 1151.7,433.3 1200,410 C1248.3,386.7 1301.7,376.7 1350,370 C1398.3,363.3 1448.3,360 1490,370 C1531.7,380 1570,403.3 1600,430 C1630,456.7 1655,493.3 1670,530 C1685,566.7 1693.3,611.7 1690,650 C1686.7,688.3 1671.7,728.3 1650,760 C1628.3,791.7 1593.3,816.7 1560,840 C1526.7,863.3 1481.7,876.7 1450,900 C1418.3,923.3 1390,950 1370,980 C1350,1010 1338.3,1043.3 1330,1080 C1321.7,1116.7 1328.3,1165 1320,1200 C1311.7,1235 1303.3,1265 1280,1290 C1256.7,1315 1211.7,1335 1180,1350 C1148.3,1365 1128.3,1388.3 1090,1380 C1051.7,1371.7 988.3,1338.3 950,1300 C911.7,1261.7 876.7,1200 860,1150 Z" fill="#b55a46" transform="translate(60 70)"/></g></g>
<path d="M1430,765 C1408.3,784.2 1334.2,835.8 1300,880 C1265.8,924.2 1237.5,1005 1225,1030" fill="none" stroke="#a44f3f" stroke-width="106" stroke-linecap="round"/><path d="M1430,765 C1408.3,784.2 1334.2,835.8 1300,880 C1265.8,924.2 1237.5,1005 1225,1030" fill="none" stroke="#e8c898" stroke-width="78" stroke-linecap="round"/>
<ellipse cx="1518" cy="465" rx="32" ry="26" transform="rotate(40 1518 465)" fill="#f7f8fc"/>
<defs><clipPath id="rb4a"><path d="M100,1050 C103.3,1016.7 103.3,981.7 120,950 C136.7,918.3 165,883.3 200,860 C235,836.7 288.3,815 330,810 C371.7,805 415,815 450,830 C485,845 515,871.7 540,900 C565,928.3 576.7,968.3 600,1000 C623.3,1031.7 646.7,1066.7 680,1090 C713.3,1113.3 760,1128.3 800,1140 C840,1151.7 881.7,1145 920,1160 C958.3,1175 1001.7,1201.7 1030,1230 C1058.3,1258.3 1080,1293.3 1090,1330 C1100,1366.7 1098.3,1411.7 1090,1450 C1081.7,1488.3 1063.3,1530 1040,1560 C1016.7,1590 986.7,1615 950,1630 C913.3,1645 870,1650 820,1650 C770,1650 711.7,1645 650,1630 C588.3,1615 511.7,1590 450,1560 C388.3,1530 328.3,1493.3 280,1450 C231.7,1406.7 190,1350 160,1300 C130,1250 110,1191.7 100,1150 C90,1108.3 96.7,1083.3 100,1050 Z"/></clipPath><clipPath id="rb4b"><path d="M100,1050 C103.3,1016.7 103.3,981.7 120,950 C136.7,918.3 165,883.3 200,860 C235,836.7 288.3,815 330,810 C371.7,805 415,815 450,830 C485,845 515,871.7 540,900 C565,928.3 576.7,968.3 600,1000 C623.3,1031.7 646.7,1066.7 680,1090 C713.3,1113.3 760,1128.3 800,1140 C840,1151.7 881.7,1145 920,1160 C958.3,1175 1001.7,1201.7 1030,1230 C1058.3,1258.3 1080,1293.3 1090,1330 C1100,1366.7 1098.3,1411.7 1090,1450 C1081.7,1488.3 1063.3,1530 1040,1560 C1016.7,1590 986.7,1615 950,1630 C913.3,1645 870,1650 820,1650 C770,1650 711.7,1645 650,1630 C588.3,1615 511.7,1590 450,1560 C388.3,1530 328.3,1493.3 280,1450 C231.7,1406.7 190,1350 160,1300 C130,1250 110,1191.7 100,1150 C90,1108.3 96.7,1083.3 100,1050 Z" transform="translate(70 -90)"/></clipPath></defs><g clip-path="url(#rb4a)"><path d="M100,1050 C103.3,1016.7 103.3,981.7 120,950 C136.7,918.3 165,883.3 200,860 C235,836.7 288.3,815 330,810 C371.7,805 415,815 450,830 C485,845 515,871.7 540,900 C565,928.3 576.7,968.3 600,1000 C623.3,1031.7 646.7,1066.7 680,1090 C713.3,1113.3 760,1128.3 800,1140 C840,1151.7 881.7,1145 920,1160 C958.3,1175 1001.7,1201.7 1030,1230 C1058.3,1258.3 1080,1293.3 1090,1330 C1100,1366.7 1098.3,1411.7 1090,1450 C1081.7,1488.3 1063.3,1530 1040,1560 C1016.7,1590 986.7,1615 950,1630 C913.3,1645 870,1650 820,1650 C770,1650 711.7,1645 650,1630 C588.3,1615 511.7,1590 450,1560 C388.3,1530 328.3,1493.3 280,1450 C231.7,1406.7 190,1350 160,1300 C130,1250 110,1191.7 100,1150 C90,1108.3 96.7,1083.3 100,1050 Z" fill="#db6b55"/><path d="M100,1050 C103.3,1016.7 103.3,981.7 120,950 C136.7,918.3 165,883.3 200,860 C235,836.7 288.3,815 330,810 C371.7,805 415,815 450,830 C485,845 515,871.7 540,900 C565,928.3 576.7,968.3 600,1000 C623.3,1031.7 646.7,1066.7 680,1090 C713.3,1113.3 760,1128.3 800,1140 C840,1151.7 881.7,1145 920,1160 C958.3,1175 1001.7,1201.7 1030,1230 C1058.3,1258.3 1080,1293.3 1090,1330 C1100,1366.7 1098.3,1411.7 1090,1450 C1081.7,1488.3 1063.3,1530 1040,1560 C1016.7,1590 986.7,1615 950,1630 C913.3,1645 870,1650 820,1650 C770,1650 711.7,1645 650,1630 C588.3,1615 511.7,1590 450,1560 C388.3,1530 328.3,1493.3 280,1450 C231.7,1406.7 190,1350 160,1300 C130,1250 110,1191.7 100,1150 C90,1108.3 96.7,1083.3 100,1050 Z" fill="#b55a46" transform="translate(0 55)"/><g clip-path="url(#rb4b)"><path d="M100,1050 C103.3,1016.7 103.3,981.7 120,950 C136.7,918.3 165,883.3 200,860 C235,836.7 288.3,815 330,810 C371.7,805 415,815 450,830 C485,845 515,871.7 540,900 C565,928.3 576.7,968.3 600,1000 C623.3,1031.7 646.7,1066.7 680,1090 C713.3,1113.3 760,1128.3 800,1140 C840,1151.7 881.7,1145 920,1160 C958.3,1175 1001.7,1201.7 1030,1230 C1058.3,1258.3 1080,1293.3 1090,1330 C1100,1366.7 1098.3,1411.7 1090,1450 C1081.7,1488.3 1063.3,1530 1040,1560 C1016.7,1590 986.7,1615 950,1630 C913.3,1645 870,1650 820,1650 C770,1650 711.7,1645 650,1630 C588.3,1615 511.7,1590 450,1560 C388.3,1530 328.3,1493.3 280,1450 C231.7,1406.7 190,1350 160,1300 C130,1250 110,1191.7 100,1150 C90,1108.3 96.7,1083.3 100,1050 Z" fill="#c9634f" transform="translate(0 55)"/></g></g>
<path d="M500,1070 C516.7,1090 556.7,1155.8 600,1190 C643.3,1224.2 733.3,1260.8 760,1275" fill="none" stroke="#b55a46" stroke-width="106" stroke-linecap="round"/><path d="M500,1070 C516.7,1090 556.7,1155.8 600,1190 C643.3,1224.2 733.3,1260.8 760,1275" fill="none" stroke="#ffe0b8" stroke-width="78" stroke-linecap="round"/>
<ellipse cx="252" cy="1025" rx="64" ry="52" transform="rotate(40 252 1025)" fill="#f7f8fc"/><circle cx="310" cy="1140" r="27" fill="#f7f8fc"/>
<defs><clipPath id="rb5a"><path d="M1000,1560 C1003.3,1531.7 1003.3,1508.3 1020,1480 C1036.7,1451.7 1065,1415 1100,1390 C1135,1365 1195,1353.3 1230,1330 C1265,1306.7 1293.3,1285 1310,1250 C1326.7,1215 1320,1165 1330,1120 C1340,1075 1348.3,1020 1370,980 C1391.7,940 1425,903.3 1460,880 C1495,856.7 1540,841.7 1580,840 C1620,838.3 1665,848.3 1700,870 C1735,891.7 1768.3,931.7 1790,970 C1811.7,1008.3 1823.3,1053.3 1830,1100 C1836.7,1146.7 1836.7,1196.7 1830,1250 C1823.3,1303.3 1811.7,1365 1790,1420 C1768.3,1475 1735,1530 1700,1580 C1665,1630 1625,1681.7 1580,1720 C1535,1758.3 1480,1788.3 1430,1810 C1380,1831.7 1326.7,1848.3 1280,1850 C1233.3,1851.7 1188.3,1838.3 1150,1820 C1111.7,1801.7 1075,1768.3 1050,1740 C1025,1711.7 1008.3,1680 1000,1650 C991.7,1620 996.7,1588.3 1000,1560 Z"/></clipPath><clipPath id="rb5b"><path d="M1000,1560 C1003.3,1531.7 1003.3,1508.3 1020,1480 C1036.7,1451.7 1065,1415 1100,1390 C1135,1365 1195,1353.3 1230,1330 C1265,1306.7 1293.3,1285 1310,1250 C1326.7,1215 1320,1165 1330,1120 C1340,1075 1348.3,1020 1370,980 C1391.7,940 1425,903.3 1460,880 C1495,856.7 1540,841.7 1580,840 C1620,838.3 1665,848.3 1700,870 C1735,891.7 1768.3,931.7 1790,970 C1811.7,1008.3 1823.3,1053.3 1830,1100 C1836.7,1146.7 1836.7,1196.7 1830,1250 C1823.3,1303.3 1811.7,1365 1790,1420 C1768.3,1475 1735,1530 1700,1580 C1665,1630 1625,1681.7 1580,1720 C1535,1758.3 1480,1788.3 1430,1810 C1380,1831.7 1326.7,1848.3 1280,1850 C1233.3,1851.7 1188.3,1838.3 1150,1820 C1111.7,1801.7 1075,1768.3 1050,1740 C1025,1711.7 1008.3,1680 1000,1650 C991.7,1620 996.7,1588.3 1000,1560 Z" transform="translate(-110 -60)"/></clipPath></defs><g clip-path="url(#rb5a)"><path d="M1000,1560 C1003.3,1531.7 1003.3,1508.3 1020,1480 C1036.7,1451.7 1065,1415 1100,1390 C1135,1365 1195,1353.3 1230,1330 C1265,1306.7 1293.3,1285 1310,1250 C1326.7,1215 1320,1165 1330,1120 C1340,1075 1348.3,1020 1370,980 C1391.7,940 1425,903.3 1460,880 C1495,856.7 1540,841.7 1580,840 C1620,838.3 1665,848.3 1700,870 C1735,891.7 1768.3,931.7 1790,970 C1811.7,1008.3 1823.3,1053.3 1830,1100 C1836.7,1146.7 1836.7,1196.7 1830,1250 C1823.3,1303.3 1811.7,1365 1790,1420 C1768.3,1475 1735,1530 1700,1580 C1665,1630 1625,1681.7 1580,1720 C1535,1758.3 1480,1788.3 1430,1810 C1380,1831.7 1326.7,1848.3 1280,1850 C1233.3,1851.7 1188.3,1838.3 1150,1820 C1111.7,1801.7 1075,1768.3 1050,1740 C1025,1711.7 1008.3,1680 1000,1650 C991.7,1620 996.7,1588.3 1000,1560 Z" fill="#db6b55"/><path d="M1000,1560 C1003.3,1531.7 1003.3,1508.3 1020,1480 C1036.7,1451.7 1065,1415 1100,1390 C1135,1365 1195,1353.3 1230,1330 C1265,1306.7 1293.3,1285 1310,1250 C1326.7,1215 1320,1165 1330,1120 C1340,1075 1348.3,1020 1370,980 C1391.7,940 1425,903.3 1460,880 C1495,856.7 1540,841.7 1580,840 C1620,838.3 1665,848.3 1700,870 C1735,891.7 1768.3,931.7 1790,970 C1811.7,1008.3 1823.3,1053.3 1830,1100 C1836.7,1146.7 1836.7,1196.7 1830,1250 C1823.3,1303.3 1811.7,1365 1790,1420 C1768.3,1475 1735,1530 1700,1580 C1665,1630 1625,1681.7 1580,1720 C1535,1758.3 1480,1788.3 1430,1810 C1380,1831.7 1326.7,1848.3 1280,1850 C1233.3,1851.7 1188.3,1838.3 1150,1820 C1111.7,1801.7 1075,1768.3 1050,1740 C1025,1711.7 1008.3,1680 1000,1650 C991.7,1620 996.7,1588.3 1000,1560 Z" fill="#b55a46" transform="translate(105 20)"/><g clip-path="url(#rb5b)"><path d="M1000,1560 C1003.3,1531.7 1003.3,1508.3 1020,1480 C1036.7,1451.7 1065,1415 1100,1390 C1135,1365 1195,1353.3 1230,1330 C1265,1306.7 1293.3,1285 1310,1250 C1326.7,1215 1320,1165 1330,1120 C1340,1075 1348.3,1020 1370,980 C1391.7,940 1425,903.3 1460,880 C1495,856.7 1540,841.7 1580,840 C1620,838.3 1665,848.3 1700,870 C1735,891.7 1768.3,931.7 1790,970 C1811.7,1008.3 1823.3,1053.3 1830,1100 C1836.7,1146.7 1836.7,1196.7 1830,1250 C1823.3,1303.3 1811.7,1365 1790,1420 C1768.3,1475 1735,1530 1700,1580 C1665,1630 1625,1681.7 1580,1720 C1535,1758.3 1480,1788.3 1430,1810 C1380,1831.7 1326.7,1848.3 1280,1850 C1233.3,1851.7 1188.3,1838.3 1150,1820 C1111.7,1801.7 1075,1768.3 1050,1740 C1025,1711.7 1008.3,1680 1000,1650 C991.7,1620 996.7,1588.3 1000,1560 Z" fill="#c9634f" transform="translate(105 20)"/></g></g>
<path d="M1455,1185 C1445.8,1209.2 1434.2,1285.8 1400,1330 C1365.8,1374.2 1275,1430 1250,1450" fill="none" stroke="#b55a46" stroke-width="106" stroke-linecap="round"/><path d="M1455,1185 C1445.8,1209.2 1434.2,1285.8 1400,1330 C1365.8,1374.2 1275,1430 1250,1450" fill="none" stroke="#ffe0b8" stroke-width="78" stroke-linecap="round"/>
<ellipse cx="1628" cy="998" rx="64" ry="52" transform="rotate(40 1628 998)" fill="#f7f8fc"/><circle cx="1628" cy="1142" r="27" fill="#f7f8fc"/>
</g>
<g transform="translate(615 1922) scale(0.108696)">
<defs><clipPath id="bnl"><path d="M432,1710 V1590 Q432,1458 565,1458 H1365 Q1498,1458 1498,1590 V1710 Z"/></clipPath></defs>
<g fill="none" stroke="#34495e" stroke-width="110" stroke-linecap="round" stroke-linejoin="round"><path d="M262,1700 V1420 L392,1300"/><path d="M1668,1700 V1420 L1538,1300"/></g>
<rect x="827" y="1290" width="278" height="180" fill="#7f8c8d"/>
<path d="M432,1710 V1590 Q432,1458 565,1458 H1365 Q1498,1458 1498,1590 V1710 Z" fill="#95a5a5"/>
<g clip-path="url(#bnl)"><rect x="380" y="1570" width="218" height="58" rx="29" fill="#7f8c8d"/><rect x="715" y="1570" width="860" height="58" rx="29" fill="#7f8c8d"/></g>
<rect x="122" y="1710" width="1686" height="58" rx="29" fill="#2d3e50"/>
<path d="M965,105 C1200,280 1443,560 1443,840 C1443,1110 1230,1318 965,1318 C700,1318 487,1110 487,840 C487,560 730,280 965,105 Z" fill="#f0c419"/>
<path d="M965,532 C1110,660 1272,850 1272,1050 C1272,1200 1140,1318 965,1318 C790,1318 655,1200 655,1050 C655,850 820,660 965,532 Z" fill="#f29c1f"/>
<path d="M965,840 C1050,920 1135,1030 1135,1140 C1135,1240 1060,1318 965,1318 C870,1318 795,1240 795,1140 C795,1030 880,920 965,840 Z" fill="#e57e25"/>
<path d="M885,310 Q745,440 655,610" fill="none" stroke="#f9eab0" stroke-width="58" stroke-linecap="round"/>
<circle cx="965" cy="248" r="29" fill="#f9eab0"/>
</g>
<g transform="translate(2232.3 1916.3) scale(0.108696)">
<defs><clipPath id="bnr"><path d="M432,1710 V1590 Q432,1458 565,1458 H1365 Q1498,1458 1498,1590 V1710 Z"/></clipPath></defs>
<g fill="none" stroke="#34495e" stroke-width="110" stroke-linecap="round" stroke-linejoin="round"><path d="M262,1700 V1420 L392,1300"/><path d="M1668,1700 V1420 L1538,1300"/></g>
<rect x="827" y="1290" width="278" height="180" fill="#7f8c8d"/>
<path d="M432,1710 V1590 Q432,1458 565,1458 H1365 Q1498,1458 1498,1590 V1710 Z" fill="#95a5a5"/>
<g clip-path="url(#bnr)"><rect x="380" y="1570" width="218" height="58" rx="29" fill="#7f8c8d"/><rect x="715" y="1570" width="860" height="58" rx="29" fill="#7f8c8d"/></g>
<rect x="122" y="1710" width="1686" height="58" rx="29" fill="#2d3e50"/>
<path d="M965,105 C1200,280 1443,560 1443,840 C1443,1110 1230,1318 965,1318 C700,1318 487,1110 487,840 C487,560 730,280 965,105 Z" fill="#f0c419"/>
<path d="M965,532 C1110,660 1272,850 1272,1050 C1272,1200 1140,1318 965,1318 C790,1318 655,1200 655,1050 C655,850 820,660 965,532 Z" fill="#f29c1f"/>
<path d="M965,840 C1050,920 1135,1030 1135,1140 C1135,1240 1060,1318 965,1318 C870,1318 795,1240 795,1140 C795,1030 880,920 965,840 Z" fill="#e57e25"/>
<path d="M885,310 Q745,440 655,610" fill="none" stroke="#f9eab0" stroke-width="58" stroke-linecap="round"/>
<circle cx="965" cy="248" r="29" fill="#f9eab0"/>
</g>
<g transform="translate(20 740) scale(0.17081)">
<polygon points="667,105 793,60 1190,300 935,372" fill="#74baf0"/>
<polygon points="667,105 742,79 1087,330 935,372" fill="#67b4f4"/>
<polygon points="667,105 711,90 1036,345 935,372" fill="#4fa3ea"/>
<path d="M45,252 L165,230 C240,225 310,260 350,300 L528,478 L1470,228 C1600,195 1750,235 1830,285 C1880,320 1895,380 1862,425 L1800,455 L520,690 C430,695 360,640 330,600 Z" fill="#b9c8db"/>
<path d="M95,312 C180,295 270,305 345,375 L495,530 Q520,555 550,545 L1470,302 C1600,270 1780,320 1862,420 Q1850,445 1800,455 L520,690 C430,695 360,640 330,600 Z" fill="#e4f5fd"/>
<polygon points="948,550 1348,480 845,1052 662,1018" fill="#74baf0"/>
<polygon points="948,550 1102,524 747,1033 662,1018" fill="#67b4f4"/>
<polygon points="948,550 1026,537 706,1025 662,1018" fill="#4fa3ea"/>
</g>
<g fill="#273142" stroke="none">
<polygon points="273.8,670.7 303.3,656.3 302.8,686.5"/>
<polygon points="447.7,626.7 479.6,628.5 459.4,653.1"/>
<polygon points="469.7,712.9 450.3,688.8 437.9,714.7"/>
<polygon points="488.4,801.4 484,770.3 460.7,785.9"/>
<g fill="none" stroke="#273142" stroke-width="2.5">
<path d="M302.5,670.9 Q385,668 454,639.6"/>
<path d="M302.5,671.5 Q375,674 444.5,702.2"/>
<path d="M302.5,672 Q390,680 473,778.5"/>
</g>
</g>
<g fill="#273142" stroke="none">
<polygon points="1887.9,670.7 1917.6,656.5 1917.2,686.2"/>
<polygon points="2046.5,632.4 2078.1,636.3 2057.4,659"/>
<polygon points="2073.4,708.2 2052.7,685 2041.8,710.3"/>
<polygon points="2089.7,782.5 2085,751.7 2061.5,768.5"/>
<g fill="none" stroke="#273142" stroke-width="2.5">
<path d="M1917,670.9 Q1991,668 2052.5,645.5"/>
<path d="M1917,671.5 Q1984,674 2047.5,698"/>
<path d="M1917,672 Q1998,680 2074,761"/>
</g>
</g>
<g transform="translate(1660 740) scale(0.175983)">
<defs>
<clipPath id="trw1"><circle cx="725" cy="773" r="113"/></clipPath>
<clipPath id="trw2"><circle cx="1072" cy="773" r="113"/></clipPath>
</defs>
<path d="M115,90 H1180 C1300,90 1400,130 1470,200 L1830,640 C1890,720 1850,825 1760,825 H115 Q80,825 80,790 V125 Q80,90 115,90 Z" fill="#b9c8ea"/>
<path d="M80,180 H1100 C1160,190 1200,215 1230,255 L1710,650 C1770,725 1740,810 1650,825 H115 Q80,825 80,790 Z" fill="#d7e0f5"/>
<path d="M1080,90 H1180 C1300,90 1400,130 1470,200 L1765,557 H1630 L1340,200 C1290,130 1200,90 1080,90 Z" fill="#e0636e"/>
<path d="M80,192 V125 Q80,90 115,90 H1080 C1200,90 1290,130 1350,200 L1640,557 H1520 C1480,557 1450,540 1420,505 L1215,250 C1180,210 1150,192 1100,192 Z" fill="#e57f87"/>
<path d="M1345,192 H1460 L1675,450 H1560 C1520,450 1495,435 1475,410 L1328,222 Q1318,200 1345,192 Z" fill="#6a5fb0"/>
<path d="M1348,193 L1460,192 L1675,450 H1543 Z" fill="#514796"/>
<rect x="80" y="220" width="306" height="230" fill="#6c62b3"/>
<rect x="440" y="220" width="320" height="230" fill="#6c62b3"/>
<path d="M745,665 V245 Q745,220 770,220 H1048 Q1073,220 1073,245 V665 Z" fill="#b9c8ea"/>
<rect x="848" y="285" width="122" height="165" rx="38" fill="#6c62b3"/>
<path d="M530,663 H1260 Q1280,665 1290,690 L1352,825 H443 L510,690 Q520,665 530,663 Z" fill="#514796"/>
<circle cx="725" cy="773" r="113" fill="#747cd4"/>
<circle cx="700" cy="705" r="113" fill="#8b93dc" clip-path="url(#trw1)"/>
<circle cx="1072" cy="773" r="113" fill="#747cd4"/>
<circle cx="1047" cy="705" r="113" fill="#8b93dc" clip-path="url(#trw2)"/>
</g>
<g transform="translate(655 1610) scale(0.150105)">
<defs>
<clipPath id="carb"><path d="M80,640 C80,560 120,520 175,512 L270,488 C310,478 330,450 350,415 C420,290 520,170 680,115 C780,85 850,85 900,85 C960,85 1040,85 1130,115 C1290,170 1390,300 1450,410 C1470,450 1500,480 1545,490 L1650,508 C1760,530 1832,620 1832,720 V830 Q1832,932 1725,932 H185 Q80,932 80,830 Z"/></clipPath>
<clipPath id="carw1"><circle cx="476" cy="875" r="170"/></clipPath>
<clipPath id="carw2"><circle cx="1437" cy="875" r="170"/></clipPath>
</defs>
<g clip-path="url(#carb)">
<rect x="0" y="0" width="1932" height="1000" fill="#f9b042"/>
<path d="M168,0 H1932 V845 H400 C320,810 240,750 185,650 C165,600 165,550 168,500 Z" fill="#f8c45f"/>
<path d="M1215,850 C1240,790 1280,755 1340,742 L1500,742 V850 Z" fill="#f9b042"/>
<polygon points="80,593 195,593 165,707 80,707" fill="#86bbd0"/>
<polygon points="170,593 195,593 180,650" fill="#a9d0e2"/>
<path d="M1663,593 H1832 V707 H1770 C1710,700 1670,650 1663,593 Z" fill="#a9d0e2"/>
</g>
<path d="M450,452 C520,300 650,180 845,168 V452 Z" fill="#86bbd0"/>
<path d="M565,365 C600,290 630,240 655,210 C720,180 780,170 845,168 V365 Z" fill="#a9d0e2"/>
<path d="M958,168 C1150,180 1290,300 1352,452 H958 Z" fill="#86bbd0"/>
<path d="M1040,178 C1150,200 1260,280 1312,365 H1150 C1080,365 1040,320 1040,250 Z" fill="#a9d0e2"/>
<path d="M1127,260 L1158,280" stroke="#ffffff" stroke-width="56" stroke-linecap="round" fill="none"/>
<rect x="392" y="508" width="113" height="58" rx="29" fill="#7c848f"/>
<rect x="928" y="508" width="114" height="58" rx="29" fill="#7c848f"/>
<circle cx="476" cy="875" r="170" fill="#5f6c76"/>
<circle cx="562" cy="788" r="172" fill="#7c848f" clip-path="url(#carw1)"/>
<circle cx="476" cy="875" r="58" fill="#a9d0e2"/>
<circle cx="1437" cy="875" r="170" fill="#5f6c76"/>
<circle cx="1523" cy="788" r="172" fill="#7c848f" clip-path="url(#carw2)"/>
<circle cx="1437" cy="875" r="58" fill="#a9d0e2"/>
</g>
<g transform="translate(2165 1585) scale(0.144928)">
<defs><clipPath id="bkr"><rect x="905" y="0" width="1100" height="1300"/></clipPath></defs>
<g fill="none" stroke-width="103">
<path d="M403,565 A273,273 0 0 0 403,1111" stroke="#42475a"/>
<path d="M403,565 A273,273 0 0 1 403,1111" stroke="#131c30"/>
<path d="M1497,565 A273,273 0 0 0 1497,1111" stroke="#42475a"/>
<path d="M1497,565 A273,273 0 0 1 1497,1111" stroke="#131c30"/>
</g>
<path d="M660,280 L730,440" fill="none" stroke="#04708f" stroke-width="100"/>
<g fill="none" stroke-width="100" stroke-linejoin="round" stroke-linecap="round">
<path d="M403,838 L905,838 L740,445 Z M740,445 L1235,325 L905,838" stroke="#4db4d6"/>
<path d="M403,838 L905,838 L740,445 Z M740,445 L1235,325 L905,838" stroke="#2591b3" clip-path="url(#bkr)"/>
<path d="M1240,215 L1497,838" stroke="#04708f"/>
<path d="M1225,182 L1385,128" stroke="#2591b3" stroke-width="106"/>
</g>
<rect x="515" y="185" width="323" height="105" rx="52" fill="#fa7a5c"/>
</g>
<g>
<text transform="matrix(1.0703 0 0 1 209.71 294)" font-size="88.5" font-weight="700" fill="#ffffff" stroke="#ffffff" stroke-width="2" stroke-linejoin="round">Réduire </text>
<text transform="matrix(1.0552 0 0 1 580.89 294)" font-size="88.5" font-weight="700" fill="#ffffff" stroke="#ffffff" stroke-width="2" stroke-linejoin="round">son </text>
<text transform="matrix(1.1334 0 0 1 763.42 294)" font-size="88.5" font-weight="700" fill="#ffffff" stroke="#ffffff" stroke-width="2" stroke-linejoin="round">empreinte </text>
<text transform="matrix(1.1107 0 0 1 1260.88 294)" font-size="88.5" font-weight="700" fill="#ffffff" stroke="#ffffff" stroke-width="2" stroke-linejoin="round">carbone, </text>
<text transform="matrix(1.1091 0 0 1 1685.48 294)" font-size="88.5" font-weight="700" fill="#ffffff" stroke="#ffffff" stroke-width="2" stroke-linejoin="round">ce </text>
<text transform="matrix(1.0681 0 0 1 1812.42 294)" font-size="88.5" font-weight="700" fill="#ffffff" stroke="#ffffff" stroke-width="2" stroke-linejoin="round">n’est </text>
<text transform="matrix(1.1199 0 0 1 2052.98 294)" font-size="88.5" font-weight="700" fill="#ffffff" stroke="#ffffff" stroke-width="2" stroke-linejoin="round">pas </text>
<text transform="matrix(1.0765 0 0 1 209.38 400)" font-size="88.5" font-weight="700" font-style="italic" fill="#ff8a80" stroke="#ff8a80" stroke-width="2" stroke-linejoin="round">plus </text>
<text transform="matrix(1.1044 0 0 1 421.45 400)" font-size="88.5" font-weight="700" font-style="italic" fill="#ff8a80" stroke="#ff8a80" stroke-width="2" stroke-linejoin="round">rien </text>
<text transform="matrix(1.1269 0 0 1 617.44 400)" font-size="88.5" font-weight="700" font-style="italic" fill="#ff8a80" stroke="#ff8a80" stroke-width="2" stroke-linejoin="round">faire</text>
<text transform="matrix(1.1444 0 0 1 830.61 400)" font-size="88.5" font-weight="700" font-style="italic" fill="#ffffff" stroke="#ffffff" stroke-width="2" stroke-linejoin="round">. </text>
<text transform="matrix(1.0486 0 0 1 868.61 400)" font-size="88.5" font-weight="700" font-style="italic" fill="#ffffff" stroke="#ffffff" stroke-width="2" stroke-linejoin="round">C’est </text>
<text transform="matrix(1.1449 0 0 1 1114.90 400)" font-size="88.5" font-weight="700" font-style="italic" fill="#8bcdb0" stroke="#8bcdb0" stroke-width="2" stroke-linejoin="round">faire </text>
<text transform="matrix(1.1305 0 0 1 1346.53 400)" font-size="88.5" font-weight="700" font-style="italic" fill="#8bcdb0" stroke="#8bcdb0" stroke-width="2" stroke-linejoin="round">différemment</text>
<text transform="matrix(1.1625 0 0 1 1984.59 400)" font-size="88.5" font-weight="700" font-style="italic" fill="#ffffff" stroke="#ffffff" stroke-width="2" stroke-linejoin="round">. </text>
<text transform="matrix(1.0237 0 0 1 78.27 690.9)" font-size="81" fill="#273142">Paris</text>
<text transform="matrix(1.0492 0 0 1 484.20 640.9)" font-size="81" fill="#273142">New </text>
<text transform="matrix(1.0487 0 0 1 675.28 640.9)" font-size="81" fill="#273142">York</text>
<text transform="matrix(1.1106 0 0 1 483.80 748.3)" font-size="81" fill="#273142">Marrakech</text>
<text transform="matrix(1.0798 0 0 1 487.56 855.7)" font-size="81" fill="#273142">Athènes</text>
<text transform="matrix(0.9199 0 0 1 1046.75 743.5)" font-size="86" font-weight="700" fill="#ffffff" stroke="#ffffff" stroke-width="2" stroke-linejoin="round">– </text>
<text transform="matrix(1.0812 0 0 1 1117.09 750.5)" font-size="86" font-weight="700" fill="#ffffff" stroke="#ffffff" stroke-width="2" stroke-linejoin="round">4,2 </text>
<text transform="matrix(1.0630 0 0 1 1264.50 750.5)" font-size="71" font-weight="700" fill="#8496b2" stroke="#8496b2" stroke-width="1.6" stroke-linejoin="round">tonnes</text>
<text transform="matrix(0.8930 0 0 1 1069.19 1250.6)" font-size="86" font-weight="700" fill="#ffffff" stroke="#ffffff" stroke-width="2" stroke-linejoin="round">– </text>
<text transform="matrix(0.7127 0 0 1 1132.73 1257.6)" font-size="86" font-weight="700" fill="#ffffff" stroke="#ffffff" stroke-width="2" stroke-linejoin="round">1,1 </text>
<text transform="matrix(1.0634 0 0 1 1238.80 1257.6)" font-size="71" font-weight="700" fill="#8496b2" stroke="#8496b2" stroke-width="1.6" stroke-linejoin="round">tonnes</text>
<text transform="matrix(0.9020 0 0 1 1055.87 1696.7)" font-size="86" font-weight="700" fill="#ffffff" stroke="#ffffff" stroke-width="2" stroke-linejoin="round">– </text>
<text transform="matrix(0.9492 0 0 1 1119.24 1703.7)" font-size="86" font-weight="700" fill="#ffffff" stroke="#ffffff" stroke-width="2" stroke-linejoin="round">1,0 </text>
<text transform="matrix(1.0630 0 0 1 1252.10 1703.7)" font-size="71" font-weight="700" fill="#8496b2" stroke="#8496b2" stroke-width="1.6" stroke-linejoin="round">tonnes</text>
<text transform="matrix(0.9020 0 0 1 1048.87 2027.2)" font-size="86" font-weight="700" fill="#ffffff" stroke="#ffffff" stroke-width="2" stroke-linejoin="round">– </text>
<text transform="matrix(1.0584 0 0 1 1116.02 2034.2)" font-size="86" font-weight="700" fill="#ffffff" stroke="#ffffff" stroke-width="2" stroke-linejoin="round">0,7 </text>
<text transform="matrix(1.0613 0 0 1 1259.10 2034.2)" font-size="71" font-weight="700" fill="#8496b2" stroke="#8496b2" stroke-width="1.6" stroke-linejoin="round">tonnes</text>
<text transform="matrix(1.0231 0 0 1 1682.77 690.9)" font-size="81" fill="#273142">Paris</text>
<text transform="matrix(1.0374 0 0 1 2089.48 640.9)" font-size="81" fill="#273142">Bruxelles</text>
<text transform="matrix(1.0959 0 0 1 2089.10 748.3)" font-size="81" fill="#273142">Barcelone</text>
<text transform="matrix(1.0888 0 0 1 2089.14 855.7)" font-size="81" fill="#273142">Milan</text>
<text transform="matrix(1.0407 0 0 1 72.21 1074.5)" font-size="69.5" fill="#b96862">Par </text>
<text transform="matrix(1.1429 0 0 1 204.02 1074.5)" font-size="69.5" fill="#b96862">semaine</text>
<text transform="matrix(1.0321 0 0 1 184.09 1207)" font-size="70.5" fill="#273142">3 </text>
<text transform="matrix(0.9929 0 0 1 242.85 1207)" font-size="70.5" fill="#273142">x</text>
<text transform="matrix(1.1348 0 0 1 554.90 1207.2)" font-size="70.5" fill="#273142">4 </text>
<text transform="matrix(0.9989 0 0 1 614.84 1207.2)" font-size="70.5" fill="#273142">x</text>
<text transform="matrix(1.1234 0 0 1 184.22 1359.9)" font-size="70.5" fill="#273142">4 </text>
<text transform="matrix(0.9869 0 0 1 244.66 1359.9)" font-size="70.5" fill="#273142">x</text>
<text transform="matrix(1.0321 0 0 1 553.39 1370.6)" font-size="70.5" fill="#273142">3 </text>
<text transform="matrix(1.0020 0 0 1 611.74 1370.6)" font-size="70.5" fill="#273142">x</text>
<text transform="matrix(1.0535 0 0 1 1683.84 1074.5)" font-size="69.5" fill="#4ba57e">Par </text>
<text transform="matrix(1.1437 0 0 1 1816.22 1074.5)" font-size="69.5" fill="#4ba57e">semaine</text>
<text transform="matrix(1.0662 0 0 1 1717.74 1207.7)" font-size="70.5" fill="#273142">2 </text>
<text transform="matrix(0.9899 0 0 1 1776.15 1207.7)" font-size="70.5" fill="#273142">x</text>
<text transform="matrix(1.1262 0 0 1 2122.61 1203)" font-size="70.5" fill="#273142">4 </text>
<text transform="matrix(1.0110 0 0 1 2182.83 1203)" font-size="70.5" fill="#273142">x</text>
<text transform="matrix(1.1234 0 0 1 1715.62 1350.1)" font-size="70.5" fill="#273142">4 </text>
<text transform="matrix(0.9989 0 0 1 1775.34 1350.1)" font-size="70.5" fill="#273142">x</text>
<text transform="matrix(1.1234 0 0 1 2121.02 1345.4)" font-size="70.5" fill="#273142">4 </text>
<text transform="matrix(1.0050 0 0 1 2181.54 1345.4)" font-size="70.5" fill="#273142">x</text>
<text transform="matrix(1.0880 0 0 1 83.30 1655.8)" font-size="81" fill="#273142">Trajet </text>
<text transform="matrix(1.0975 0 0 1 326.92 1655.8)" font-size="81" fill="#273142">jusqu’au</text>
<text transform="matrix(1.1548 0 0 1 84.50 1750)" font-size="81" fill="#273142">travail </text>
<text transform="matrix(1.3515 0 0 1 344.65 1750)" font-size="81" fill="#273142">: </text>
<text transform="matrix(0.8111 0 0 1 382.87 1750)" font-size="81" fill="#273142">10 </text>
<text transform="matrix(1.1307 0 0 1 478.25 1750)" font-size="81" fill="#273142">km</text>
<text transform="matrix(1.0502 0 0 1 1727.07 1655.8)" font-size="81" fill="#273142">Vélo</text>
<text transform="matrix(1.1339 0 0 1 1724.97 1750)" font-size="81" fill="#273142">électrique</text>
<text transform="matrix(1.1305 0 0 1 83.62 2012.7)" font-size="81" fill="#273142">Chauffer</text>
<text transform="matrix(1.1089 0 0 1 80.01 2107.3)" font-size="81" fill="#273142">70m² </text>
<text transform="matrix(1.0821 0 0 1 303.66 2107.3)" font-size="81" fill="#273142">à </text>
<text transform="matrix(1.0170 0 0 1 376.08 2107.3)" font-size="81" fill="#273142">22°C</text>
<text transform="matrix(1.1309 0 0 1 1724.52 2012.7)" font-size="81" fill="#273142">Chauffer</text>
<text transform="matrix(1.1083 0 0 1 1720.91 2107.3)" font-size="81" fill="#273142">70m² </text>
<text transform="matrix(1.0966 0 0 1 1944.40 2107.3)" font-size="81" fill="#273142">à </text>
<text transform="matrix(0.9312 0 0 1 2012.64 2107.3)" font-size="81" fill="#273142">19°C</text>
<text transform="matrix(1.1619 0 0 1 71.37 2320)" font-size="90.5" fill="#fe8d82">Total </text>
<text transform="matrix(1.3027 0 0 1 305.99 2320)" font-size="90.5" fill="#fe8d82">:</text>
<text transform="matrix(1.0434 0 0 1 353.35 2320)" font-size="87.5" font-weight="700" fill="#fe8d82" stroke="#fe8d82" stroke-width="2" stroke-linejoin="round">9,6 </text>
<text transform="matrix(1.0954 0 0 1 503.14 2320)" font-size="87.5" font-weight="700" fill="#fe8d82" stroke="#fe8d82" stroke-width="2" stroke-linejoin="round">tonnes</text>
<text transform="matrix(1.1619 0 0 1 1724.27 2320)" font-size="90.5" fill="#b3ddca">Total </text>
<text transform="matrix(1.4423 0 0 1 1957.45 2320)" font-size="90.5" fill="#b3ddca">:</text>
<text transform="matrix(1.0400 0 0 1 2005.06 2320)" font-size="87.5" font-weight="700" fill="#b3ddca" stroke="#b3ddca" stroke-width="2" stroke-linejoin="round">2,6 </text>
<text transform="matrix(1.0972 0 0 1 2153.54 2320)" font-size="87.5" font-weight="700" fill="#b3ddca" stroke="#b3ddca" stroke-width="2" stroke-linejoin="round">tonnes</text>
</g>
</svg>
</body>
</html>
